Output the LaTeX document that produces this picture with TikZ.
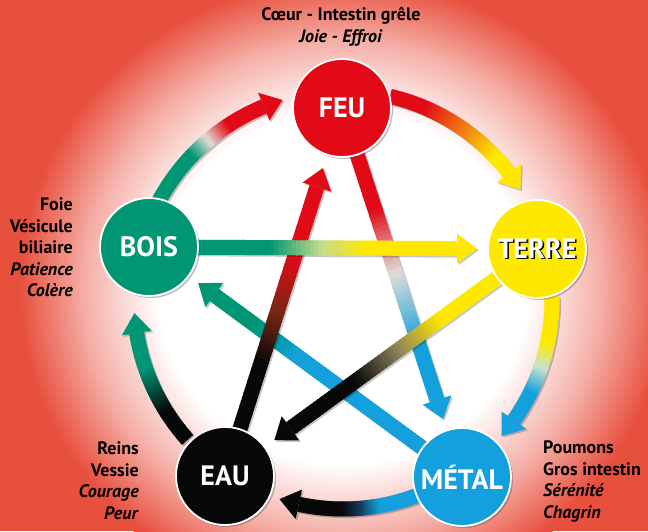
\documentclass[tikz,border=0pt]{standalone}
\usepackage{fontspec}
\setmainfont{PT Sans}
\usetikzlibrary{calc,shadows}
\definecolor{bgred}{RGB}{232,80,62}
\colorlet{bgpink}{bgred!45!white}
\definecolor{feured}{RGB}{226,10,22}
\definecolor{terreyel}{RGB}{255,232,0}
\definecolor{boisgreen}{RGB}{0,150,115}
\definecolor{eaublack}{RGB}{8,8,8}
\definecolor{metalblue}{RGB}{20,160,220}
\definecolor{palegray}{RGB}{222,222,216}
\definecolor{midorange}{RGB}{240,120,20}
\definecolor{palecyan}{RGB}{200,228,205}
\definecolor{darkblue}{RGB}{20,60,95}
\definecolor{darkteal}{RGB}{0,80,62}
\definecolor{palegreen}{RGB}{200,220,140}
\definecolor{olivegray}{RGB}{140,130,90}
\definecolor{brownish}{RGB}{120,40,20}
\definecolor{tealmix}{RGB}{0,150,160}
\pgfdeclareradialshading{glow}{\pgfpoint{0bp}{0bp}}{color(0bp)=(white); color(14bp)=(white); color(19.5bp)=(bgpink); color(24.5bp)=(bgred); color(50bp)=(bgred)}
\pgfdeclarelayer{bg}
\pgfdeclarelayer{arr}
\pgfsetlayers{bg,arr,main}
\newcommand\setstops[6]{\def\gsA{#1}\def\gsB{#2}\def\gsC{#3}\def\gcA{#4}\def\gcM{#5}\def\gcB{#6}}
\newcommand\gcolor[1]{%
  \pgfmathsetmacro\gtA{100*min(max((#1-\gsA)/(\gsB-\gsA),0),1)}%
  \pgfmathsetmacro\gtB{100*min(max((#1-\gsB)/(\gsC-\gsB),0),1)}%
  \colorlet{gtmp}{\gcM!\gtA!\gcA}%
  \colorlet{gcur}{\gcB!\gtB!gtmp}%
}
% gradient arc arrow: centre, radius, start angle, tip angle
\newcommand\gradarc[4]{%
  \pgfmathsetmacro\gaE{#4 - sign(#4-#3)*20/#2*180/pi}%
  \pgfmathsetmacro\gRo{#2+15}%
  \pgfmathsetmacro\gRi{#2-15}%
  \begin{scope}[transform canvas={shift={(1.6pt,-1.6pt)}}]
    \draw[line width=15pt, black, opacity=0.22] ($(#1)+(#3:#2)$) arc[start angle=#3, end angle=\gaE, radius=#2];
    \fill[black, opacity=0.22] ($(#1)+(#4:#2)$) -- ($(#1)+(\gaE:\gRo)$) -- ($(#1)+(\gaE:\gRi)$) -- cycle;
  \end{scope}
  \foreach \i in {0,...,59}{%
    \pgfmathsetmacro\gt{(\i+0.5)/60}%
    \gcolor{\gt}%
    \pgfmathsetmacro\gaa{#3+(\gaE-#3)*\i/60}%
    \pgfmathsetmacro\gab{#3+(\gaE-#3)*min(\i+1.4,60)/60}%
    \draw[line width=15pt, gcur] ($(#1)+(\gaa:#2)$) arc[start angle=\gaa, end angle=\gab, radius=#2];
  }%
  \gcolor{1}%
  \fill[gcur] ($(#1)+(#4:#2)$) -- ($(#1)+(\gaE:\gRo)$) -- ($(#1)+(\gaE:\gRi)$) -- cycle;
}
% gradient straight arrow: from node, to node, start distance, tip distance
\newcommand\gradline[4]{%
  \coordinate (gS) at ($(#1)!#3!(#2)$);
  \coordinate (gT) at ($(#2)!#4!(#1)$);
  \coordinate (gE) at ($(gT)!20pt!(gS)$);
  \begin{scope}[transform canvas={shift={(1.6pt,-1.6pt)}}]
    \draw[line width=15pt, black, opacity=0.22] (gS) -- (gE);
    \fill[black, opacity=0.22] (gT) -- ($(gE)!15pt!90:(gT)$) -- ($(gE)!15pt!-90:(gT)$) -- cycle;
  \end{scope}
  \foreach \i in {0,...,59}{%
    \pgfmathsetmacro\gt{(\i+0.5)/60}%
    \gcolor{\gt}%
    \pgfmathsetmacro\gaa{\i/60}%
    \pgfmathsetmacro\gab{min(\i+1.4,60)/60}%
    \draw[line width=15pt, gcur] ($(gS)!\gaa!(gE)$) -- ($(gS)!\gab!(gE)$);
  }%
  \gcolor{1}%
  \fill[gcur] (gT) -- ($(gE)!15pt!90:(gT)$) -- ($(gE)!15pt!-90:(gT)$) -- cycle;
}
\tikzset{
  elem/.style={circle, minimum size=98pt, inner sep=0pt, draw=white, line width=1.8pt,
    font=\bfseries\fontsize{28}{28}\selectfont, text=white,
    drop shadow={shadow xshift=2pt, shadow yshift=-2pt, opacity=0.35, fill=black!70}},
  info/.style={font=\bfseries\fontsize{18}{21.5}\selectfont, inner sep=0pt, text=black}
}
\begin{document}
\begin{tikzpicture}[x=1pt, y=1pt]
\useasboundingbox (0,0) rectangle (648,531);
\begin{pgfonlayer}{bg}
  \fill[bgred] (0,0) rectangle (648,531);
  \shade[shading=glow] (343,243) ellipse [x radius=330, y radius=315];
\end{pgfonlayer}

\node[elem, fill=feured] (feu) at (342,423) {FEU};
\node[elem, fill=terreyel] (terre) at (537,282) {\rlap{\hspace{1.6pt}\raisebox{-1.6pt}{\color{black}TERRE}}TERRE};
\node[elem, fill=boisgreen] (bois) at (149,284) {BOIS};
\node[elem, fill=eaublack] (eau) at (225,55) {EAU};
\node[elem, fill=metalblue] (metal) at (462,54) {MÉTAL};
\coordinate (ctr) at (343,231);

\node[info, align=center] (toptext) at (341,504) {Cœur - Intestin grêle\\\textit{Joie - Effroi}};
\node[info, align=right, anchor=east] (boistext) at (73,283.5) {Foie\\Vésicule\\biliaire\\\textit{Patience}\\\textit{Colère}};
\node[info, align=right, anchor=east] (eautext) at (139,50.5) {Reins\\Vessie\\\textit{Courage}\\\textit{Peur}};
\node[info, align=left, anchor=west] (metaltext) at (543,49.5) {Poumons\\Gros intestin\\\textit{Sérénité}\\\textit{Chagrin}};

\begin{pgfonlayer}{arr}
  % outer cycle
  \setstops{0.40}{0.55}{0.72}{boisgreen}{palegray}{feured}
  \gradarc{ctr}{209}{152}{106.8}
  \setstops{0.25}{0.55}{0.85}{feured}{midorange}{terreyel}
  \gradarc{ctr}{209}{77}{31.9}
  \setstops{0.35}{0.55}{0.75}{terreyel}{palecyan}{metalblue}
  \gradarc{ctr}{209}{1}{-40.6}
  \setstops{0.35}{0.5}{0.65}{metalblue}{darkblue}{eaublack}
  \gradarc{ctr}{209}{-68}{-107.7}
  \setstops{0.3}{0.5}{0.7}{eaublack}{darkteal}{boisgreen}
  \gradarc{ctr}{209}{-138}{-176.4}
  % star
  \setstops{0.62}{0.72}{0.82}{metalblue}{tealmix}{boisgreen}
  \gradline{metal}{bois}{40pt}{61pt}
  \setstops{0.25}{0.5}{0.78}{feured}{palegray}{metalblue}
  \gradline{feu}{metal}{40pt}{61pt}
  \setstops{0.3}{0.5}{0.72}{eaublack}{brownish}{feured}
  \gradline{eau}{feu}{40pt}{63pt}
  \setstops{0.3}{0.5}{0.7}{terreyel}{olivegray}{eaublack}
  \gradline{terre}{eau}{40pt}{61pt}
  \setstops{0.3}{0.5}{0.66}{boisgreen}{palegreen}{terreyel}
  \gradline{bois}{terre}{40pt}{60pt}
\end{pgfonlayer}
\end{tikzpicture}
\end{document}
